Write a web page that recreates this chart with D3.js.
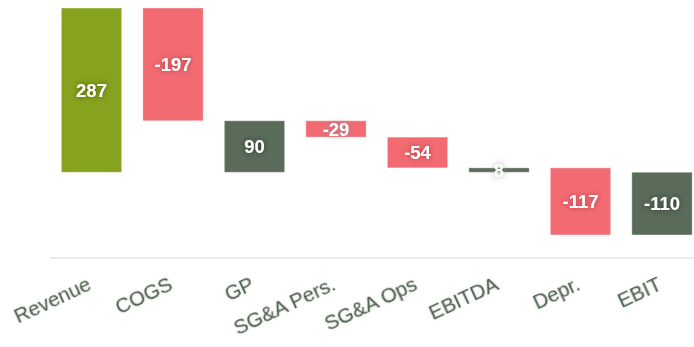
<!DOCTYPE html>
<html>
<head>
<meta charset="utf-8">
<script src="https://cdn.jsdelivr.net/npm/d3@7"></script>
<style>
  html, body { margin: 0; padding: 0; background: #fff; }
  svg { display: block; font-family: "Liberation Sans", Arial, sans-serif; }
</style>
</head>
<body>
<svg id="chart" width="694" height="347"></svg>
<script>
// Income-statement bridge, in thousands
const categories = ["Revenue", "COGS", "GP", "SG&A Pers.", "SG&A Ops", "EBITDA", "Depr.", "EBIT"];
const amounts    = [287.4, -197.3, null, -28.6, -53.8, null, -117.4, null];
const kinds      = ["start", "delta", "total", "delta", "delta", "total", "delta", "total"];
const yDomain    = [-150, 287.4];

const colors = { start: "#87a21e", delta: "#f26b72", total: "#5a6b5a" };
const shadowColors = { start: "#3f5008", delta: "#a8323a", total: "#243024" };

// running totals give each step its start and end
let running = 0;
const steps = categories.map((name, i) => {
  const kind = kinds[i];
  let from, to, value;
  if (kind === "total") {
    from = 0; to = running; value = running;
  } else {
    from = running; to = running + amounts[i]; value = amounts[i];
    running = to;
  }
  return { name, kind, from, to, value };
});

const svg = d3.select("#chart");
const x = d3.scaleBand().domain(categories).range([50.75, 702.75])
  .paddingInner(0.26).paddingOuter(0.13);
const y = d3.scaleLinear().domain(yDomain).range([258, 8]);

const defs = svg.append("defs");
function glow(id, color, dev, opacity) {
  const f = defs.append("filter").attr("id", id)
    .attr("x", "-60%").attr("y", "-100%").attr("width", "220%").attr("height", "300%");
  f.append("feGaussianBlur").attr("in", "SourceAlpha").attr("stdDeviation", dev).attr("result", "b");
  f.append("feFlood").attr("flood-color", color).attr("flood-opacity", opacity);
  f.append("feComposite").attr("in2", "b").attr("operator", "in").attr("result", "s");
  const m = f.append("feMerge");
  m.append("feMergeNode").attr("in", "s");
  m.append("feMergeNode").attr("in", "SourceGraphic");
}
Object.entries(shadowColors).forEach(([k, c]) => glow("glow-" + k, c, 2.6, 0.9));
glow("glow-gray", "#888", 3, 0.8);
glow("tick-shadow", "#7a8a7a", 0.8, 0.35);

// baseline of the category axis
svg.append("line")
  .attr("x1", 50).attr("x2", 694)
  .attr("y1", y(yDomain[0])).attr("y2", y(yDomain[0]))
  .attr("stroke", "#e6e6e6").attr("stroke-width", 1.5);

// bars
svg.append("g").selectAll("rect").data(steps).join("rect")
  .attr("x", d => x(d.name))
  .attr("width", x.bandwidth())
  .attr("y", d => y(Math.max(d.from, d.to)))
  .attr("height", d => Math.abs(y(d.from) - y(d.to)))
  .attr("fill", d => colors[d.kind])
  .attr("stroke", "#ffffff").attr("stroke-opacity", 0.35).attr("stroke-width", 1);

// value labels centred in each bar
svg.append("g").selectAll("text").data(steps).join("text")
  .attr("x", d => x(d.name) + x.bandwidth() / 2)
  .attr("y", d => (y(d.from) + y(d.to)) / 2)
  .attr("dy", "0.36em")
  .attr("text-anchor", "middle")
  .attr("font-size", 18.5)
  .attr("font-weight", "bold")
  .attr("fill", "#ffffff")
  .attr("filter", d => Math.abs(y(d.from) - y(d.to)) < 20 ? "url(#glow-gray)" : `url(#glow-${d.kind})`)
  .text(d => String(Math.round(d.value)));

// rotated category labels
svg.append("g").selectAll("text").data(categories).join("text")
  .attr("transform", d => `translate(${x(d) + x.bandwidth() / 2 + 1},${289}) rotate(-25)`)
  .attr("text-anchor", "end")
  .attr("font-size", 20.5)
  .attr("fill", "#4e5f4e")
  .attr("filter", "url(#tick-shadow)")
  .text(d => d);
</script>
</body>
</html>
